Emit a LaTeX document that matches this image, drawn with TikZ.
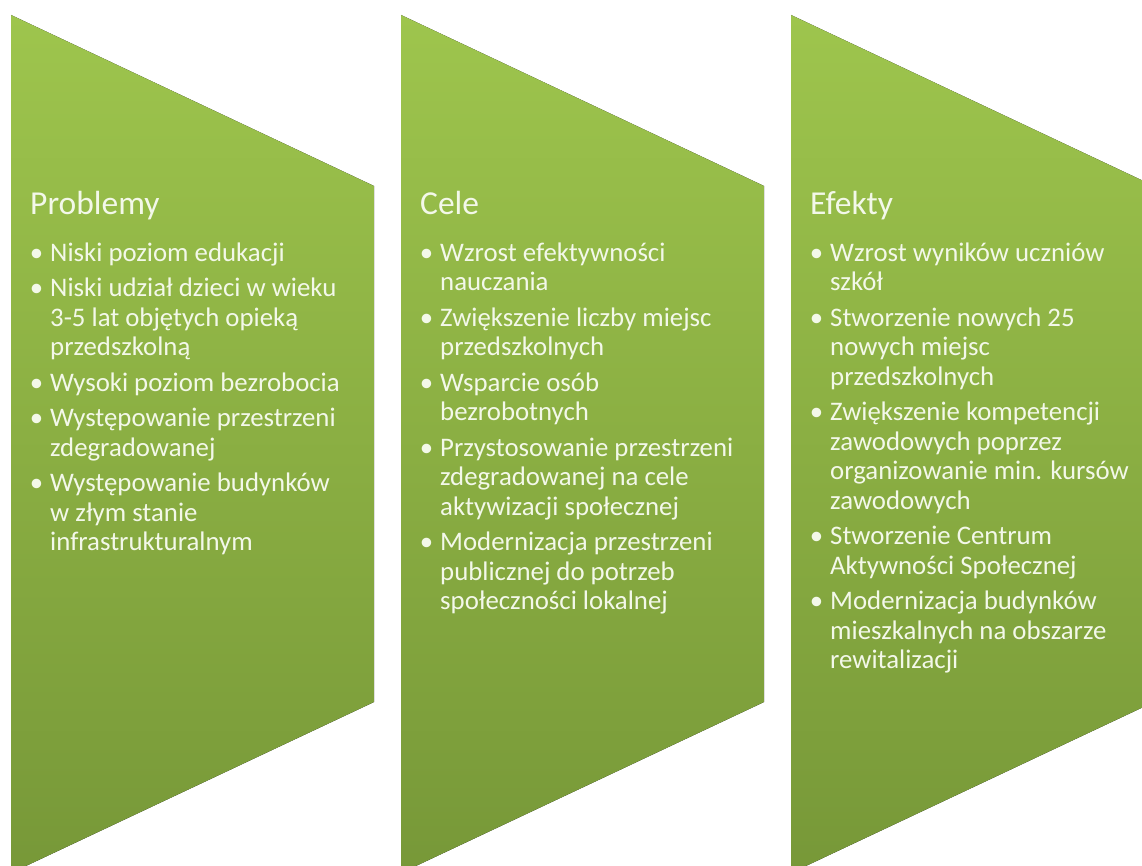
\documentclass[tikz,border=0pt]{standalone}
\usepackage{fontspec}
\setmainfont{Carlito}
\usetikzlibrary{positioning,backgrounds}

\definecolor{panelTop}{RGB}{158,197,77}
\definecolor{panelBot}{RGB}{119,152,56}
\definecolor{panelText}{RGB}{243,248,233}

\newcommand{\blt}{\llap{\textbullet\hspace{7pt}}}

\begin{document}
\begin{tikzpicture}[x=1pt, y=-1pt, background rectangle/.style={fill=white}, show background rectangle]
    \tikzset{
        panel/.style = {draw=none, top color=panelTop, bottom color=panelBot},
        heading/.style = {anchor=base west, inner sep=0pt, text=panelText, font=\fontsize{33.5}{37}\selectfont},
        bullets/.style = {anchor=north west, inner sep=0pt, align=left, text=panelText, font=\fontsize{26.8}{29.5}\selectfont},
    }
    \useasboundingbox (0,0) rectangle (1142,866);
    \clip (0,0) rectangle (1142,866);

    % the three panels
    \foreach \name/\x in {prob/11, cele/401, efekty/791} {
        \coordinate (\name_nw) at (\x,15);
        \fill [panel] (\x,15) -- ++(363,171) -- ++(0,516) -- ++(-363,171) -- cycle;
    }

    \node (prob_title) [heading] at ([xshift=19pt, yshift=-200pt]prob_nw) {Problemy};
    \node (prob_list) [bullets] at ([xshift=39pt, yshift=-225.5pt]prob_nw) {%
        \strut\blt Niski poziom edukacji\\[6pt]
        \blt Niski udział dzieci w wieku\\
        3-5 lat objętych opieką\\
        przedszkolną\\[6pt]
        \blt Wysoki poziom bezrobocia\\[6pt]
        \blt Występowanie przestrzeni\\
        zdegradowanej\\[6pt]
        \blt Występowanie budynków\\
        w złym stanie\\
        infrastrukturalnym};

    \node (cele_title) [heading] at ([xshift=19pt, yshift=-200pt]cele_nw) {Cele};
    \node (cele_list) [bullets] at ([xshift=39pt, yshift=-225.5pt]cele_nw) {%
        \strut\blt Wzrost efektywności\\
        nauczania\\[6pt]
        \blt Zwiększenie liczby miejsc\\
        przedszkolnych\\[6pt]
        \blt Wsparcie osób\\
        bezrobotnych\\[6pt]
        \blt Przystosowanie przestrzeni\\
        zdegradowanej na cele\\
        aktywizacji społecznej\\[6pt]
        \blt Modernizacja przestrzeni\\
        publicznej do potrzeb\\
        społeczności lokalnej};

    \node (efekty_title) [heading] at ([xshift=19pt, yshift=-200pt]efekty_nw) {Efekty};
    \node (efekty_list) [bullets] at ([xshift=39pt, yshift=-225.5pt]efekty_nw) {%
        \strut\blt Wzrost wyników uczniów\\
        szkół\\[6pt]
        \blt Stworzenie nowych 25\\
        nowych miejsc\\
        przedszkolnych\\[6pt]
        \blt Zwiększenie kompetencji\\
        zawodowych poprzez\\
        organizowanie min. kursów\\
        zawodowych\\[6pt]
        \blt Stworzenie Centrum\\
        Aktywności Społecznej\\[6pt]
        \blt Modernizacja budynków\\
        mieszkalnych na obszarze\\
        rewitalizacji};
\end{tikzpicture}
\end{document}
